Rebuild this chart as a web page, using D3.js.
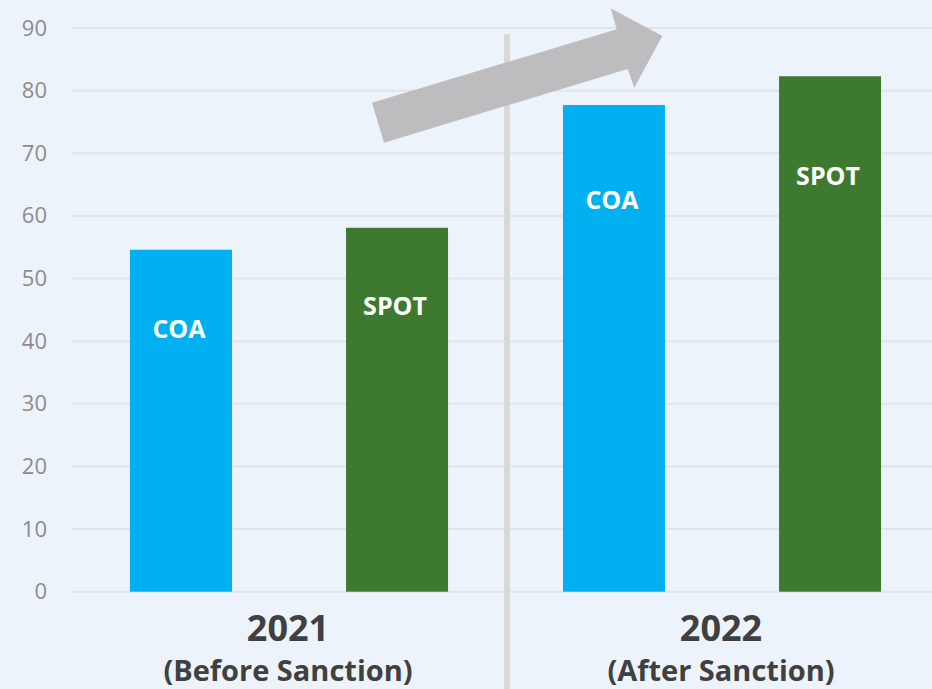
<!DOCTYPE html>
<html><head><meta charset="utf-8">
<script src="https://cdn.jsdelivr.net/npm/d3@7"></script>
<style>
html,body{margin:0;padding:0;background:#EDF3FA;}
svg{display:block;font-family:"Open Sans","Noto Sans",sans-serif;}
</style></head>
<body>
<svg id="chart" width="932" height="689"></svg>
<script>
const years = ["2021", "2022"];
const yearSubtitles = ["(Before Sanction)", "(After Sanction)"];
const series = ["COA", "SPOT"];
const coaValues = [54.6, 77.7];
const spotValues = [58.1, 82.3];
const labelValues = [[41.9, 45.6], [62.5, 66.4]];
const yTicks = [0, 10, 20, 30, 40, 50, 60, 70, 80, 90];
const colors = {COA: "#00B0F0", SPOT: "#3D7A2F"};

const svg = d3.select("#chart");
const W = 932, H = 689;
svg.append("rect").attr("width", W).attr("height", H).attr("fill", "#EDF3FA");

const y = d3.scaleLinear().domain([0, 90]).range([591.7, 28]);
const x0 = d3.scaleBand().domain(years).range([72.5, 938.5]).padding(0);
const x1 = d3.scaleBand().domain(series).range([0, x0.bandwidth()])
  .paddingInner(0.528).paddingOuter(0.266);

// gridlines
svg.append("g").selectAll("line").data(yTicks).join("line")
  .attr("x1", 72).attr("x2", W)
  .attr("y1", d => y(d)).attr("y2", d => y(d))
  .attr("stroke", "#E1E4E8").attr("stroke-width", 2);

// y axis
const yAxis = d3.axisLeft(y).tickValues(yTicks).tickSize(0).tickPadding(0);
const ga = svg.append("g").attr("transform", "translate(47,0)").call(yAxis);
ga.select(".domain").remove();
ga.selectAll("text").attr("font-size", 22).attr("fill", "#8C8C8C")
  .attr("font-family", "'Open Sans','Noto Sans',sans-serif");

// divider
const divX = x0("2022") + 1.5;
svg.append("line").attr("x1", divX).attr("x2", divX).attr("y1", 34).attr("y2", H)
  .attr("stroke", "#D9D9D9").attr("stroke-width", 6);

// bars
const rows = years.map((yr, i) => ({
  year: yr,
  items: [{s: "COA", v: coaValues[i], lv: labelValues[i][0]},
          {s: "SPOT", v: spotValues[i], lv: labelValues[i][1]}]
}));
const g = svg.append("g").selectAll("g").data(rows).join("g")
  .attr("transform", d => `translate(${x0(d.year)},0)`);
g.selectAll("rect").data(d => d.items).join("rect")
  .attr("x", d => x1(d.s)).attr("width", x1.bandwidth())
  .attr("y", d => y(d.v)).attr("height", d => y(0) - y(d.v))
  .attr("fill", d => colors[d.s]);
g.selectAll("text").data(d => d.items).join("text")
  .attr("x", d => x1(d.s) + x1.bandwidth() / 2 - 2)
  .attr("y", d => y(d.lv))
  .attr("dy", "0.35em")
  .attr("text-anchor", "middle")
  .attr("font-size", 25).attr("font-weight", 700).attr("fill", "#FFFFFF")
  .text(d => d.s);

// category labels
const cat = svg.append("g").selectAll("g").data(years).join("g");
cat.append("text")
  .attr("x", d => x0(d) + x0.bandwidth() / 2 - 1)
  .attr("y", 641).attr("text-anchor", "middle")
  .attr("font-size", 36).attr("font-weight", 700).attr("fill", "#404040")
  .text(d => d);
cat.append("text")
  .attr("x", d => x0(d) + x0.bandwidth() / 2 - 1)
  .attr("y", 681).attr("text-anchor", "middle")
  .attr("font-size", 29).attr("font-weight", 700).attr("fill", "#404040")
  .text((d, i) => yearSubtitles[i]);

// trend arrow annotation
const arrowPts = [[372,102.7],[616.7,29.3],[610.7,8.3],[662.3,36],[634.3,87.7],[627.7,69],[384,142.7]];
svg.append("path")
  .attr("d", d3.line()(arrowPts) + "Z")
  .attr("fill", "#BDBDBF");
</script>
</body></html>
